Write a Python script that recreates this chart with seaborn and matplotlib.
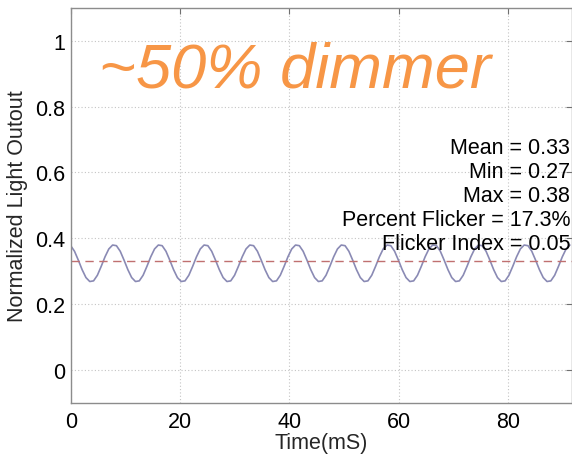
import numpy as np
import pandas as pd
import matplotlib
matplotlib.use("Agg")
import matplotlib.pyplot as plt
import seaborn as sns

# Light output (one sample every ~0.697 ms, 12 per 120 Hz cycle)
sample_ms = 0.697
light_output = [
    0.377, 0.360, 0.333, 0.304, 0.280, 0.268, 0.270, 0.287, 0.314, 0.343, 0.367, 0.379,
    0.377, 0.360, 0.333, 0.304, 0.280, 0.268, 0.270, 0.287, 0.314, 0.343, 0.367, 0.379,
    0.377, 0.360, 0.333, 0.304, 0.280, 0.268, 0.270, 0.287, 0.314, 0.343, 0.367, 0.379,
    0.377, 0.360, 0.333, 0.304, 0.280, 0.268, 0.270, 0.287, 0.314, 0.343, 0.367, 0.379,
    0.377, 0.360, 0.333, 0.304, 0.280, 0.268, 0.270, 0.287, 0.314, 0.343, 0.367, 0.379,
    0.377, 0.360, 0.333, 0.304, 0.280, 0.268, 0.270, 0.287, 0.314, 0.343, 0.367, 0.379,
    0.377, 0.360, 0.333, 0.304, 0.280, 0.268, 0.270, 0.287, 0.314, 0.343, 0.367, 0.379,
    0.377, 0.360, 0.333, 0.304, 0.280, 0.268, 0.270, 0.287, 0.314, 0.343, 0.367, 0.379,
    0.377, 0.360, 0.333, 0.304, 0.280, 0.268, 0.270, 0.287, 0.314, 0.343, 0.367, 0.379,
    0.377, 0.360, 0.333, 0.304, 0.280, 0.268, 0.270, 0.287, 0.314, 0.343, 0.367, 0.379,
    0.377, 0.360, 0.333, 0.304, 0.280, 0.268, 0.270, 0.287, 0.314, 0.343, 0.367, 0.379,
]
mean_level = 0.33
stats_lines = [
    "Mean = 0.33",
    "Min = 0.27",
    "Max = 0.38",
    "Percent Flicker = 17.3%",
    "Flicker Index = 0.05",
]
x_ticks = [0, 20, 40, 60, 80]
y_ticks = [0, 0.2, 0.4, 0.6, 0.8, 1]
y_tick_labels = ["0", "0.2", "0.4", "0.6", "0.8", "1"]

df = pd.DataFrame({
    "time": np.arange(len(light_output)) * sample_ms,
    "light": light_output,
})

sns.set_theme(style="white")
plt.rcParams["font.family"] = ["Liberation Sans", "DejaVu Sans"]

W, H = 572, 456
fig = plt.figure(figsize=(W / 100, H / 100), dpi=100)
left, right, top, bottom = 70.7, 571.5, 9.0, 403.5
ax = fig.add_axes([left / W, 1 - bottom / H, (right - left) / W, (bottom - top) / H])

sns.lineplot(data=df, x="time", y="light", ax=ax, color="#8a8ab4", linewidth=1.2)
ax.axhline(mean_level, color="#c07070", linestyle=(0, (6, 4)), linewidth=1.0)

ax.set_xlim(0, 91.6)
ax.set_ylim(-0.1, 1.1)
ax.set_xticks(x_ticks)
ax.set_yticks(y_ticks)
ax.set_yticklabels(y_tick_labels)
ax.grid(True, linestyle=(0, (1, 2)), color="#c4c4c4", linewidth=0.8)
for s in ax.spines.values():
    s.set_color("#8c8c8c")
    s.set_linewidth(1.0)
ax.tick_params(direction="in", length=4, width=0.8, color="#707070",
               top=True, right=True, labelsize=15.5, labelcolor="black")
ax.tick_params(axis="x", pad=6)
ax.tick_params(axis="y", pad=4)

ax.set_xlabel("Time(mS)", fontsize=15.5, labelpad=0)
ax.set_ylabel("Normalized Light Outout", fontsize=15.5, labelpad=5)

# stats block, right aligned at the image edge
for i, line in enumerate(stats_lines):
    y_px = 148 + i * 24.25
    fig.text(570 / W, 1 - y_px / H, line, ha="right", va="center",
             fontsize=15.5, color="black")

fig.text(295 / W, 1 - 87 / H, "~50% dimmer", ha="center", va="baseline",
         fontsize=45.5, style="italic", color="#f79646")

fig.savefig("out.png", dpi=100)
